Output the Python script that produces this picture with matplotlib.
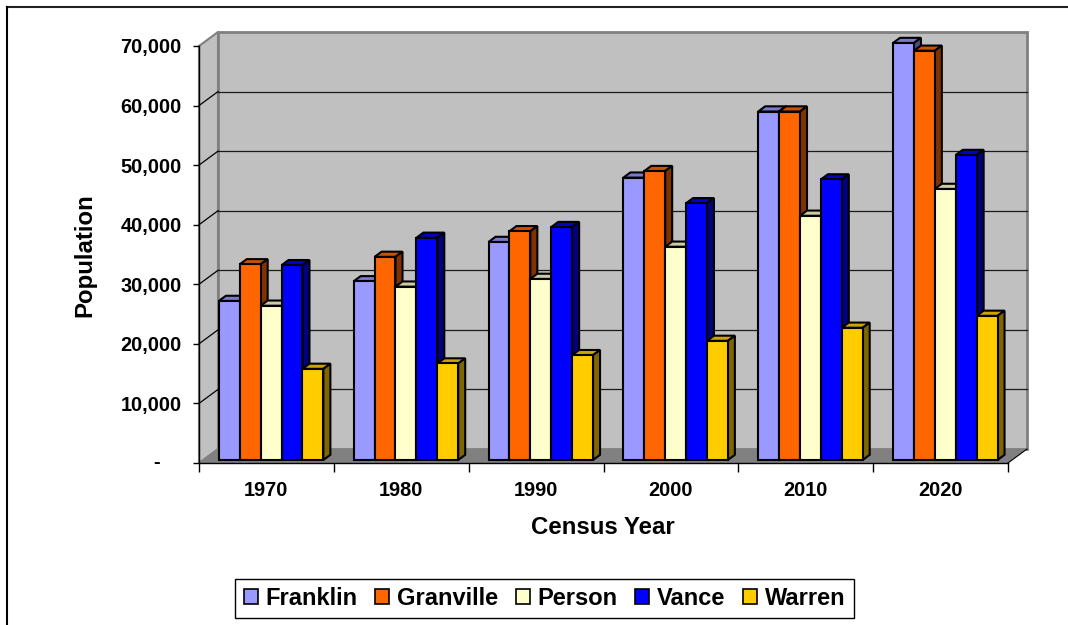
import matplotlib
matplotlib.use('Agg')
import matplotlib.pyplot as plt
from matplotlib.patches import Polygon, Patch
from matplotlib.lines import Line2D
from matplotlib.transforms import ScaledTranslation

plt.rcParams['font.family'] = ['Liberation Sans', 'DejaVu Sans']
plt.rcParams['font.weight'] = 'bold'

# ---------------- data ----------------
years = ['1970', '1980', '1990', '2000', '2010', '2020']
counties = ['Franklin', 'Granville', 'Person', 'Vance', 'Warren']
franklin = [26700, 30000, 36600, 47400, 58500, 70000]
granville = [32850, 34100, 38400, 48500, 58500, 68700]
person = [25900, 29100, 30400, 35800, 41000, 45500]
vance = [32700, 37300, 39100, 43100, 47100, 51200]
warren = [15300, 16200, 17600, 20000, 22200, 24200]
series = [franklin, granville, person, vance, warren]
y_ticks = [0, 10000, 20000, 30000, 40000, 50000, 60000, 70000]

front_colors = ['#9999FF', '#FF6600', '#FFFFCC', '#0000FF', '#FFCC00']
top_colors = ['#7A7ACC', '#CC5200', '#CCCCA3', '#0000CC', '#CCA300']
side_colors = ['#4D4D80', '#803300', '#808066', '#000080', '#806600']

# ---------------- figure ----------------
W, H = 1068, 625
fig = plt.figure(figsize=(W / 100, H / 100), dpi=100)
ax = fig.add_axes([199 / W, 1 - 463 / H, 809 / W, 417 / H])
YMAX = y_ticks[-1]
NC = len(years)
ax.set_xlim(0, NC)
ax.set_ylim(0, YMAX)
ax.patch.set_visible(False)
for k in ['top', 'right']:
    ax.spines[k].set_visible(False)
for k in ['left', 'bottom']:
    ax.spines[k].set_color('black')
    ax.spines[k].set_linewidth(1.0)
    ax.spines[k].set_zorder(2.5)

# depth offsets (in data units)
DX = 19 / 809 * NC
DY = 14 / 417 * YMAX
F0 = 3 / 14      # depth position of bar front faces
FB = 0.37        # bar depth fraction
BW = 0.155       # bar width
G0 = 0.117       # group left offset within category

wall = '#C0C0C0'
edge = '#808080'

# left side wall
ax.add_patch(Polygon([(0, 0), (DX, DY), (DX, YMAX + DY), (0, YMAX)], closed=True,
                     facecolor=wall, edgecolor=edge, lw=1.5, zorder=0.5, clip_on=False))
# back wall
ax.add_patch(Polygon([(DX, DY), (NC + DX, DY), (NC + DX, YMAX + DY), (DX, YMAX + DY)], closed=True,
                     facecolor=wall, edgecolor=edge, lw=2.0, zorder=0.5, clip_on=False))
# floor
ax.add_patch(Polygon([(0, 0), (NC, 0), (NC + DX, DY), (DX, DY)], closed=True,
                     facecolor='#808080', edgecolor='none', zorder=0.6, clip_on=False))
ax.plot([NC, NC + DX], [0, DY], color='black', lw=0.8, zorder=0.7, clip_on=False)

# gridlines on back wall and side wall
for v in y_ticks[1:-1]:
    ax.plot([DX, NC + DX], [v + DY, v + DY], color='#1a1a1a', lw=0.9, zorder=0.8, clip_on=False)
for v in y_ticks[1:-1]:
    ax.plot([0, DX], [v, v + DY], color='black', lw=0.9, zorder=0.8, clip_on=False)

# bars
bdx, bdy = FB * DX, FB * DY
x_off, y_off = F0 * DX, F0 * DY
for j, vals in enumerate(series):
    z = 3 + j * 0.1
    lefts = [i + G0 + j * BW + x_off for i in range(NC)]
    ax.bar(lefts, vals, width=BW, bottom=y_off, align='edge', color=front_colors[j],
           edgecolor='black', linewidth=1.5, zorder=z + 0.05, clip_on=False)
    for x0, v in zip(lefts, vals):
        top = y_off + v
        ax.add_patch(Polygon([(x0, top), (x0 + BW, top), (x0 + BW + bdx, top + bdy), (x0 + bdx, top + bdy)],
                             closed=True, facecolor=top_colors[j], edgecolor='black', lw=1.5,
                             zorder=z, clip_on=False))
        ax.add_patch(Polygon([(x0 + BW, y_off), (x0 + BW + bdx, y_off + bdy), (x0 + BW + bdx, top + bdy),
                              (x0 + BW, top)], closed=True, facecolor=side_colors[j], edgecolor='black',
                             lw=1.5, zorder=z, clip_on=False))

# y axis ticks / labels
ax.set_yticks(y_ticks)
ax.set_yticklabels(['' if v == 0 else f'{v:,}' for v in y_ticks])
ax.tick_params(axis='y', length=4.5, width=1, pad=8, labelsize=14.4, colors='black')
ax.text(0, 0, '-', transform=ax.transData + ScaledTranslation(-42.5 / 100, 0, fig.dpi_scale_trans),
        ha='center', va='center', fontsize=14.4, fontweight='bold')

# x axis ticks / labels
ax.set_xticks(range(NC + 1))
ax.set_xticklabels([''] * (NC + 1))
ax.tick_params(axis='x', which='major', length=6.5, width=1, colors='black')
ax.set_xticks([i + 0.5 for i in range(NC)], minor=True)
ax.set_xticklabels(years, minor=True)
ax.tick_params(axis='x', which='minor', length=0, pad=13, labelsize=14.4)

# axis titles
fig.text(85 / W, 1 - 255 / H, 'Population', rotation=90, ha='center', va='center',
         fontsize=17.3, fontweight='bold')
fig.text(603 / W, 1 - 528 / H, 'Census Year', ha='center', va='center',
         fontsize=17.3, fontweight='bold')

# legend
handles = [Patch(facecolor=c, edgecolor='black', lw=1.2) for c in front_colors]
leg = fig.legend(handles, counties, loc='center', bbox_to_anchor=(544.5 / W, 1 - 598.5 / H),
                 ncol=5, frameon=True, fancybox=False, edgecolor='black', framealpha=1,
                 handlelength=0.6, handleheight=0.6, handletextpad=0.32, columnspacing=0.75,
                 borderpad=0.35, borderaxespad=0, fontsize=17)
leg.get_frame().set_linewidth(1.0)
for t in leg.get_texts():
    t.set_fontweight('bold')

# chart area border (top and left visible)
fig.add_artist(Line2D([7 / W, 1], [1 - 7 / H, 1 - 7 / H], transform=fig.transFigure, color='#222222', lw=1.5))
fig.add_artist(Line2D([7 / W, 7 / W], [0, 1 - 7 / H], transform=fig.transFigure, color='black', lw=1.5))

fig.savefig('out.png', dpi=100)
